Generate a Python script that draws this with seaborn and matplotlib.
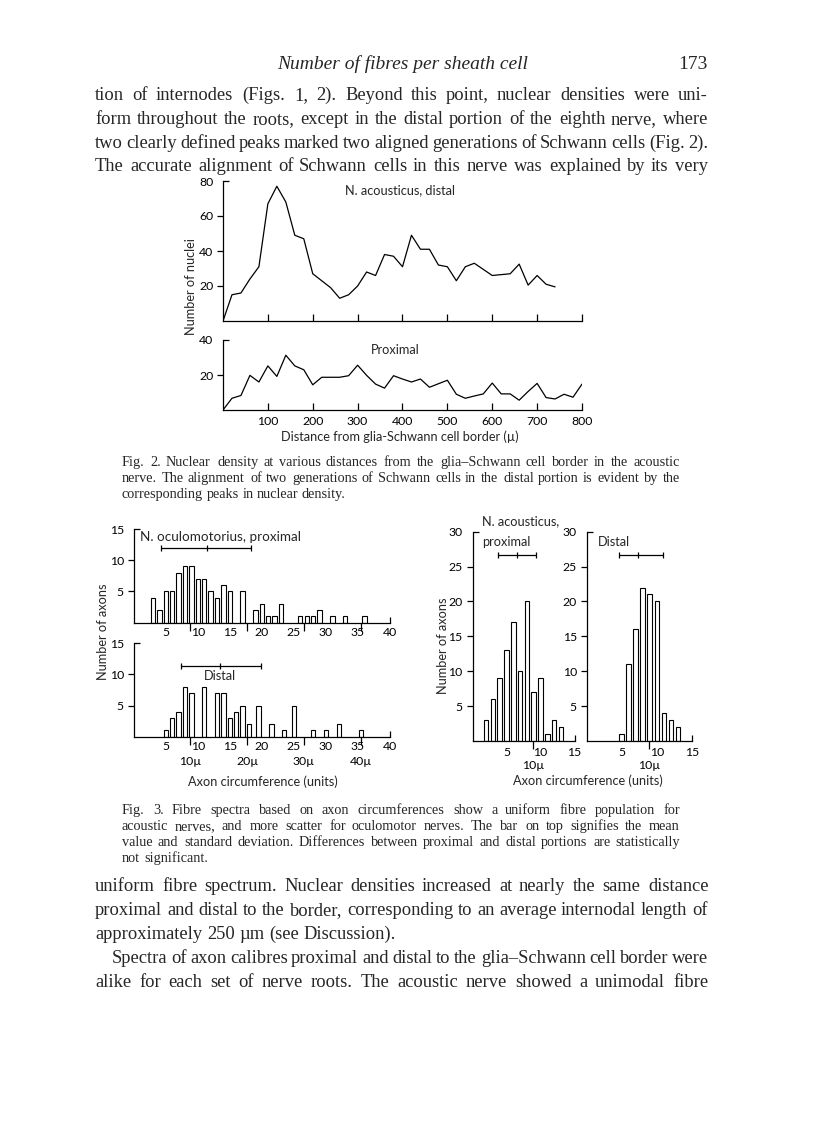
import matplotlib
matplotlib.use('Agg')
import matplotlib.pyplot as plt
import matplotlib.lines as mlines
import seaborn as sns

W, H = 816, 1136
SANS = ['Lato', 'DejaVu Sans']
SERIF = 'Liberation Serif'

# Fig. 2 - number of nuclei against distance from the glia-Schwann border
distal_dist = [0, 20, 40, 60, 80, 100, 120, 140, 160, 180, 200, 220, 240, 260, 280,
               300, 320, 340, 360, 380, 400, 420, 440, 460, 480, 500, 520, 540, 560,
               580, 600, 620, 640, 660, 680, 700, 720, 740]
distal_nuclei = [0, 15, 16, 24, 31, 67, 77, 68, 49, 47, 27, 23, 19, 13, 15,
                 20, 28, 26, 38, 37, 31, 49, 41, 41, 32, 31, 23, 31, 33,
                 29.5, 26, 26.5, 27, 32.5, 20.5, 26, 21, 19.5]
prox_dist = [0, 20, 40, 60, 80, 100, 120, 140, 160, 180, 200, 220, 240, 260, 280,
             300, 320, 340, 360, 380, 400, 420, 440, 460, 480, 500, 520, 540, 560,
             580, 600, 620, 640, 660, 680, 700, 720, 740, 760, 780, 800]
prox_nuclei = [0, 6.7, 8.3, 19.8, 16, 25.2, 19.2, 31.3, 25.2, 23, 14.4, 18.7, 18.7, 18.7, 19.6,
               25.6, 19.8, 14.8, 12.5, 19.6, 17.7, 16, 17.7, 13, 15, 17, 9, 6.7, 8,
               9.2, 15.4, 9.2, 9.2, 5.6, 10.6, 15.2, 7.1, 6.3, 9, 7.3, 14.8]
dist_ticks = [100, 200, 300, 400, 500, 600, 700, 800]

# Fig. 3 - fibre spectra (axon circumference, units)
ocu_prox_units = [3, 4, 5, 6, 7, 8, 9, 10, 11, 12, 13, 14, 15, 17, 19, 20, 21, 22, 23,
                  26, 27, 28, 29, 31, 33, 36]
ocu_prox_axons = [4, 2, 5, 5, 8, 9, 9, 7, 7, 5, 4, 6, 5, 5, 2, 3, 1, 1, 3,
                  1, 1, 1, 2, 1, 1, 1]
ocu_dist_units = [5, 6, 7, 8, 9, 11, 13, 14, 15, 16, 17, 18, 19.5, 21.5, 23.5, 25, 28, 30, 32, 35.5]
ocu_dist_axons = [1, 3, 4, 8, 7, 8, 7, 7, 3, 4, 5, 2, 5, 2, 1, 5, 1, 1, 2, 1]
aco_prox_units = [2, 3, 4, 5, 6, 7, 8, 9, 10, 11, 12, 13]
aco_prox_axons = [3, 6, 9, 13, 17, 10, 20, 7, 9, 1, 3, 2]
aco_dist_units = [5, 6, 7, 8, 9, 10, 11, 12, 13]
aco_dist_axons = [1, 11, 16, 22, 21, 20, 4, 3, 2]

# mean - sd, mean, mean + sd drawn above each spectrum
ocu_prox_bar = [4.2, 11.4, 18.3]
ocu_dist_bar = [7.4, 13.5, 19.9]
aco_prox_bar = [3.8, 6.6, 9.3]
aco_dist_bar = [4.6, 7.3, 10.8]

ocu_ticks = [5, 10, 15, 20, 25, 30, 35, 40]
aco_ticks = [5, 10, 15]
ocu_mu = [10, 20, 30, 40]
aco_mu = [10]
UNITS_PER_MU = 0.885

top_lines = [
    "tion of internodes (Figs. 1, 2). Beyond this point, nuclear densities were uni-",
    "form throughout the roots, except in the distal portion of the eighth nerve, where",
    "two clearly defined peaks marked two aligned generations of Schwann cells (Fig. 2).",
    "The accurate alignment of Schwann cells in this nerve was explained by its very",
]
fig2_caption = [
    "Fig. 2. Nuclear density at various distances from the glia\u2013Schwann cell border in the acoustic",
    "nerve. The alignment of two generations of Schwann cells in the distal portion is evident by the",
    "corresponding peaks in nuclear density.",
]
fig3_caption = [
    "Fig. 3. Fibre spectra based on axon circumferences show a uniform fibre population for",
    "acoustic nerves, and more scatter for oculomotor nerves. The bar on top signifies the mean",
    "value and standard deviation. Differences between proximal and distal portions are statistically",
    "not significant.",
]
bottom_lines = [
    "uniform fibre spectrum. Nuclear densities increased at nearly the same distance",
    "proximal and distal to the border, corresponding to an average internodal length of",
    "approximately 250 \u00b5m (see Discussion).",
    "Spectra of axon calibres proximal and distal to the glia\u2013Schwann cell border were",
    "alike for each set of nerve roots. The acoustic nerve showed a unimodal fibre",
]


def seaborn_settings():
    '''
    White background, plain black axes like the printed page
    '''
    sns.set_theme(style='ticks')
    plt.rcParams['font.family'] = SANS
    plt.rcParams['axes.linewidth'] = 0.9
    plt.rcParams['axes.edgecolor'] = 'black'
    plt.rcParams['xtick.color'] = 'black'
    plt.rcParams['ytick.color'] = 'black'
    plt.rcParams['font.size'] = 8.5


def panel(fig, left, right, top, bottom):
    '''
    Adds axes from pixel edges of the page
    '''
    ax = fig.add_axes([left / W, 1 - bottom / H, (right - left) / W, (bottom - top) / H])
    sns.despine(ax=ax)
    return ax


def flip_top_ytick(ax):
    '''
    The top y tick of every panel points inwards
    '''
    ax.yaxis.get_major_ticks()[-1].tick1line.set_marker(mlines.TICKRIGHT)


def fig2_panel(ax, dist, nuclei, yticks, show_labels):
    sns.lineplot(x=dist, y=nuclei, ax=ax, color='black', linewidth=0.9)
    ax.set_xlim(0, 800)
    ax.set_ylim(0, yticks[-1])
    ax.set_xticks(dist_ticks)
    ax.set_yticks(yticks)
    ax.tick_params(axis='x', direction='in', length=5, width=0.9, pad=4, labelsize=8.8)
    ax.tick_params(axis='y', direction='out', length=4.5, width=0.9, pad=2.5, labelsize=8.8)
    if not show_labels:
        ax.set_xticklabels([])
    flip_top_ytick(ax)


def fig3_panel(ax, units, axons, bar, bar_y, xticks, yticks, mu_ticks, pad):
    sns.barplot(x=units, y=axons, ax=ax, native_scale=True, width=0.68,
                color='white', edgecolor='black', linewidth=0.8, errorbar=None)
    ax.set_xlim(0, xticks[-1])
    ax.set_ylim(0, yticks[-1])
    ax.set_xticks(xticks)
    ax.set_xticklabels([str(t) for t in xticks])
    ax.set_yticks(yticks)
    ax.set_xlabel('')
    ax.set_ylabel('')
    ax.tick_params(axis='x', direction='in', length=4.5, width=0.9, pad=pad, labelsize=8.8)
    ax.tick_params(axis='y', direction='out', length=4.5, width=0.9, pad=2.5, labelsize=8.8)
    for t in ax.xaxis.get_major_ticks()[:-1]:
        t.tick1line.set_visible(False)
    flip_top_ytick(ax)

    sec = ax.secondary_xaxis('bottom', functions=(lambda u: u / UNITS_PER_MU,
                                                  lambda m: m * UNITS_PER_MU))
    sec.set_xticks(mu_ticks)
    sec.set_xticklabels([f'{m}\u00b5' for m in mu_ticks])
    sec.tick_params(direction='out', length=5.5, width=0.9, pad=8.5, labelsize=8.8)
    for s in sec.spines.values():
        s.set_visible(False)

    lo, mid, hi = bar
    ax.errorbar([mid], [bar_y], xerr=[[mid - lo], [hi - mid]], fmt='none',
                ecolor='black', elinewidth=0.9, capsize=2.3, capthick=0.9)
    ax.plot([mid], [bar_y], marker='|', markersize=4.6, markeredgewidth=0.9, color='black')


def label(fig, x, y, s, **kw):
    kw.setdefault('ha', 'center')
    kw.setdefault('va', 'center')
    kw.setdefault('fontsize', 9.2)
    fig.text(x / W, 1 - y / H, s, **kw)


def justified(fig, lines, x0, x1, ys, size, justify, indent=None):
    '''
    Writes lines word by word so both edges line up like the printed page
    '''
    renderer = fig.canvas.get_renderer()
    for i, line in enumerate(lines):
        start = x0 + (indent[i] if indent else 0)
        words = line.split(' ')
        items = [fig.text(0, 1 - ys[i] / H, w, fontsize=size, family=SERIF,
                          ha='left', va='baseline') for w in words]
        widths = [t.get_window_extent(renderer).width for t in items]
        if justify[i] and len(words) > 1:
            gap = (x1 - start - sum(widths)) / (len(words) - 1)
        else:
            gap = size * 0.25 * 100 / 72
        x = start
        for t, w in zip(items, widths):
            t.set_x(round(x) / W)
            x += w + gap


def page_text(fig):
    fig.text(403 / W, 1 - 69 / H, 'Number of fibres per sheath cell', fontsize=14,
             family=SERIF, style='italic', ha='center', va='baseline')
    fig.text(708 / W, 1 - 69 / H, '173', fontsize=14, family=SERIF, ha='right', va='baseline')
    justified(fig, top_lines, 95, 708, [100, 124, 148, 171], 13.3, [True] * 4)
    justified(fig, fig2_caption, 122, 680, [466, 482, 498], 10.3, [True, True, False])
    justified(fig, fig3_caption, 122, 680, [814, 830, 846, 862], 10.3, [True, True, True, False])
    justified(fig, bottom_lines, 95, 708, [891, 915, 939, 963, 987], 13.3,
              [True, True, False, True, True], indent=[0, 0, 0, 17, 0])


def main():
    seaborn_settings()
    fig = plt.figure(figsize=(W / 100, H / 100), dpi=100)

    # Fig. 2
    ax = panel(fig, 223, 582, 181, 321)
    fig2_panel(ax, distal_dist, distal_nuclei, [20, 40, 60, 80], False)
    ax = panel(fig, 223, 582, 340, 410)
    fig2_panel(ax, prox_dist, prox_nuclei, [20, 40], True)
    label(fig, 400, 190, 'N. acousticus, distal')
    label(fig, 395, 350, 'Proximal')
    label(fig, 191, 287, 'Number of nuclei', rotation=90)
    label(fig, 400, 437, 'Distance from glia-Schwann cell border (\u00b5)')

    # Fig. 3
    ax = panel(fig, 133.7, 390, 529, 622.7)
    fig3_panel(ax, ocu_prox_units, ocu_prox_axons, ocu_prox_bar, 12,
               ocu_ticks, [5, 10, 15], ocu_mu, 3)
    ax = panel(fig, 133.7, 390, 643.3, 736.7)
    fig3_panel(ax, ocu_dist_units, ocu_dist_axons, ocu_dist_bar, 11.3,
               ocu_ticks, [5, 10, 15], ocu_mu, 3)
    ax = panel(fig, 472.5, 574.5, 531.7, 741)
    fig3_panel(ax, aco_prox_units, aco_prox_axons, aco_prox_bar, 26.6,
               aco_ticks, [5, 10, 15, 20, 25, 30], aco_mu, 4.5)
    ax = panel(fig, 586.7, 692, 531.7, 741)
    fig3_panel(ax, aco_dist_units, aco_dist_axons, aco_dist_bar, 26.6,
               aco_ticks, [5, 10, 15, 20, 25, 30], aco_mu, 4.5)

    label(fig, 140, 537, 'N. oculomotorius, proximal', ha='left', fontsize=9.7)
    label(fig, 220, 676, 'Distal')
    label(fig, 482, 521, 'N. acousticus,', ha='left')
    label(fig, 482, 542, 'proximal', ha='left')
    label(fig, 598, 542, 'Distal', ha='left')
    label(fig, 103, 632, 'Number of axons', rotation=90)
    label(fig, 443, 646, 'Number of axons', rotation=90)
    label(fig, 263, 782, 'Axon circumference (units)')
    label(fig, 588, 781, 'Axon circumference (units)')

    page_text(fig)
    fig.savefig('out.png', dpi=100)


main()
